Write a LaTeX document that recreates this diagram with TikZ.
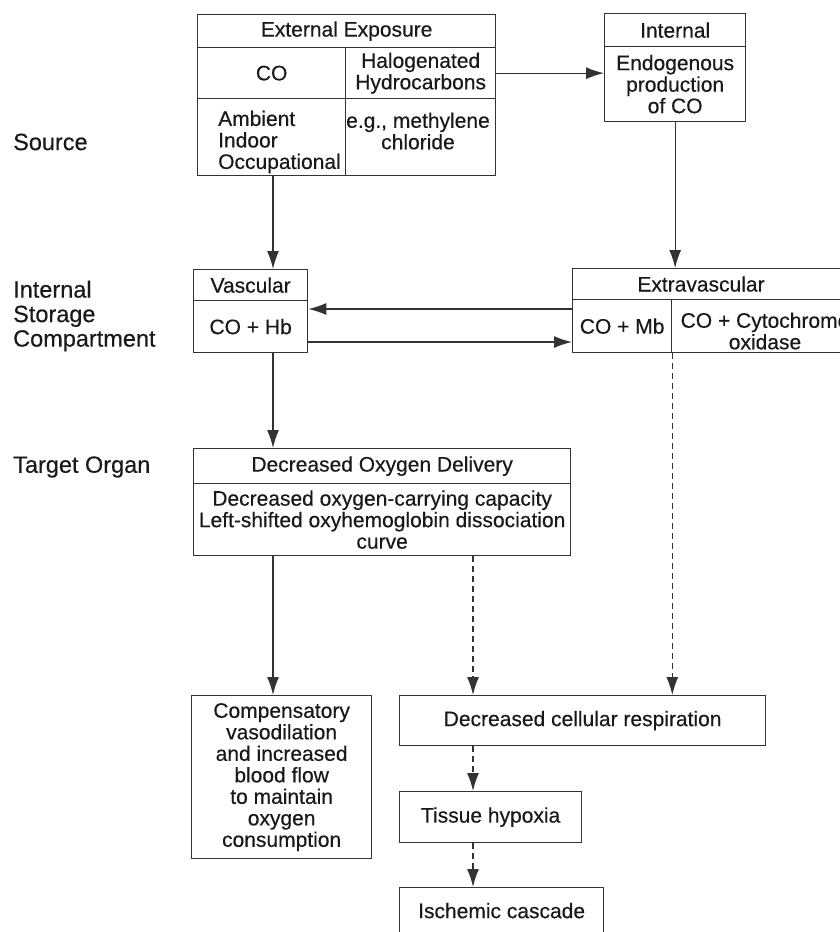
\documentclass[tikz,border=0pt]{standalone}
\usepackage{fontspec}
\setmainfont{Liberation Sans}[FakeBold=0.35]
\usetikzlibrary{arrows.meta}
\newcommand\boxfont{\fontsize{21}{21.5}\selectfont}
\newcommand\labfont{\fontsize{23.5}{24.5}\selectfont}
\tikzset{
  cell/.style={draw=black!80, line width=1.3pt, rectangle, inner sep=0pt, anchor=north west, align=center, font=\boxfont, text=black!90},
  txt/.style={inner sep=0pt, align=center, font=\boxfont, text=black!90},
  lab/.style={inner sep=0pt, anchor=west, align=left, font=\labfont, text=black!90},
  arr/.style={-{Latex[length=18pt,width=12pt]}, line width=1.3pt, draw=black!80},
  darr/.style={arr, dash pattern=on 6pt off 4pt},
}
\begin{document}
\begin{tikzpicture}[x=1pt,y=-1pt]
\useasboundingbox[fill=white] (0,0) rectangle (839,932);
% left labels
\node[lab] (lsrc) at (13,142) {Source};
\node[lab] (lstore) at (13,316) {Internal\\Storage\\Compartment};
\node[lab] (ltarget) at (13,467) {Target Organ};
% External exposure table
\node[cell, minimum width=298, minimum height=33] (exttitle) at (197,14) {External Exposure};
\node[cell, minimum width=148, minimum height=51] (extco) at (197,47) {CO};
\node[cell, minimum width=150, minimum height=51] (exthal) at (345,47) {Halogenated\\Hydrocarbons};
\node[cell, minimum width=148, minimum height=77] (extamb) at (197,98) {};
\node[txt, align=left, anchor=west] (extambtxt) at (218,142) {Ambient\\Indoor\\Occupational};
\node[cell, minimum width=150, minimum height=77] (extmeth) at (345,98) {};
\node[txt] (extmethtxt) at (418,131) {e.g., methylene\\chloride};
% Internal
\node[cell, minimum width=141, minimum height=33] (intitle) at (604,13) {Internal};
\node[cell, minimum width=141, minimum height=75] (intbody) at (604,46) {Endogenous\\production\\of CO};
% Vascular
\node[cell, minimum width=114, minimum height=31] (vastitle) at (193,269) {Vascular};
\node[cell, minimum width=114, minimum height=52] (vasbody) at (193,300) {CO + Hb};
% Extravascular
\node[cell, minimum width=290, minimum height=31] (exvtitle) at (572,268) {};
\node[txt] (exvtitletxt) at (701,284) {Extravascular};
\node[cell, minimum width=99, minimum height=53] (exvmb) at (572,299) {CO + Mb};
\node[cell, minimum width=191, minimum height=53] (exvcyt) at (671,299) {};
\node[txt] (exvcyttxt) at (765,331) {CO + Cytochrome\\oxidase};
% Decreased oxygen delivery
\node[cell, minimum width=377, minimum height=35] (dodtitle) at (193,448) {Decreased Oxygen Delivery};
\node[cell, minimum width=377, minimum height=72] (dodbody) at (193,483) {Decreased oxygen-carrying capacity\\Left-shifted oxyhemoglobin dissociation\\curve};
% bottom boxes
\node[cell, minimum width=180, minimum height=163] (comp) at (191,695) {Compensatory\\vasodilation\\and increased\\blood flow\\to maintain\\oxygen\\consumption};
\node[cell, minimum width=366, minimum height=50] (dcr) at (399,695) {Decreased cellular respiration};
\node[cell, minimum width=182, minimum height=51] (tis) at (399,791) {Tissue hypoxia};
\node[cell, minimum width=204, minimum height=46] (isc) at (399,887) {Ischemic cascade};
% guide coordinates
\coordinate (vx) at (273,0);
\coordinate (dx) at (473,0);
\coordinate (ya) at (0,309);
\coordinate (yb) at (0,342);
% connectors
\draw[arr] (exthal.east) -- (exthal.east -| intbody.west);
\draw[arr] (extamb.south -| vx) -- (vastitle.north -| vx);
\draw[arr] (intbody.south) -- (intbody.south |- exvtitle.north);
\draw[arr] (exvmb.west |- ya) -- (vasbody.east |- ya);
\draw[arr] (vasbody.east |- yb) -- (exvmb.west |- yb);
\draw[arr] (vasbody.south -| vx) -- (dodtitle.north -| vx);
\draw[arr] (dodbody.south -| vx) -- (comp.north -| vx);
\draw[darr] (dodbody.south -| dx) -- (dcr.north -| dx);
\draw[darr] (exvmb.south east) -- (exvmb.south east |- dcr.north);
\draw[darr] (dcr.south -| dx) -- (tis.north -| dx);
\draw[darr] (tis.south -| dx) -- (isc.north -| dx);
\end{tikzpicture}
\end{document}
